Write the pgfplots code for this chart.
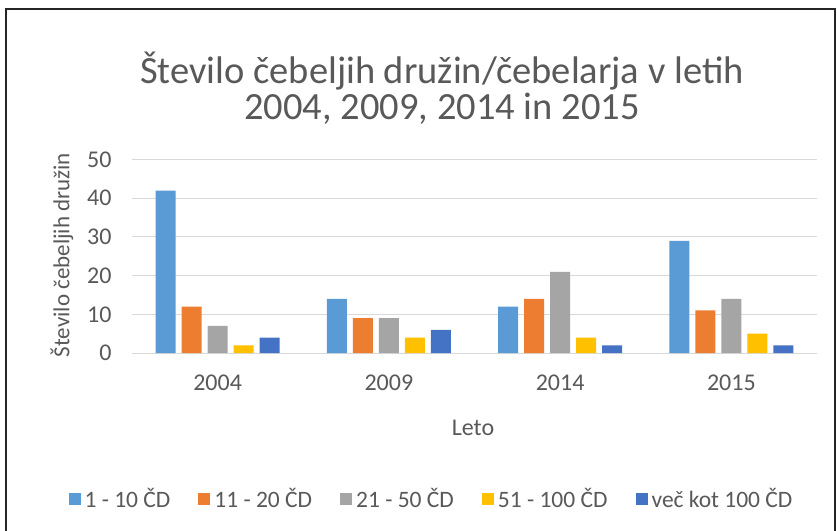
\documentclass[border=0pt]{standalone}
\usepackage{pgfplots}
\pgfplotsset{compat=1.18}
\usepackage{fontspec}
\setmainfont{Carlito}
\definecolor{cA}{HTML}{5B9BD5}
\definecolor{cB}{HTML}{ED7D31}
\definecolor{cC}{HTML}{A5A5A5}
\definecolor{cD}{HTML}{FFC000}
\definecolor{cE}{HTML}{4472C4}
\definecolor{txt}{HTML}{595959}
\definecolor{grd}{HTML}{D9D9D9}
\begin{document}
\begin{tikzpicture}[x=1pt,y=1pt]
\useasboundingbox (-132,-177) rectangle (705,353);
\fill[white] (-132,-177) rectangle (705,353);
\draw[black!85, line width=1.2pt] (-126,-190) -- (-126,344) -- (703,344) -- (703,-190);
\node[txt, font=\fontsize{38.5}{46}\selectfont, anchor=base] at (310,269) {Število čebeljih družin/čebelarja v letih};
\node[txt, font=\fontsize{38.5}{46}\selectfont, anchor=base] at (310,233) {2004, 2009, 2014 in 2015};
\node[txt, font=\fontsize{23}{28}\selectfont, rotate=90] at (-70,98) {Število čebeljih družin};
\node[txt, font=\fontsize{24}{29}\selectfont, anchor=base] at (341,-82) {Leto};
\begin{axis}[
  at={(0,0)}, anchor=south west,
  scale only axis, width=685pt, height=193.4pt,
  xmin=-0.5, xmax=3.5, ymin=0, ymax=50,
  ybar=6pt, bar width=20pt,
  xtick={0,1,2,3}, xticklabels={2004,2009,2014,2015},
  ytick={0,10,20,30,40,50},
  ymajorgrids, grid style={grd, line width=1pt},
  axis line style={draw=none},
  tick style={draw=none},
  /pgf/number format/assume math mode=true,
  ticklabel style={txt, font=\fontsize{24}{29}\selectfont},
  yticklabel style={xshift=-17pt},
  xticklabel style={yshift=-14pt},
  legend columns=5,
  legend style={at={(0.4372,-0.755)}, anchor=center, draw=none, fill=none,
    font=\fontsize{23.5}{28}\selectfont, text=txt,
    /tikz/every odd column/.append style={column sep=2pt},
    /tikz/every even column/.append style={column sep=26pt}},
  legend image code/.code={\fill[#1] (0pt,-6pt) rectangle (12pt,6pt);},
]
\addplot[fill=cA, draw=none] coordinates {(0,42) (1,14) (2,12) (3,29)};
\addplot[fill=cB, draw=none] coordinates {(0,12) (1,9) (2,14) (3,11)};
\addplot[fill=cC, draw=none] coordinates {(0,7) (1,9) (2,21) (3,14)};
\addplot[fill=cD, draw=none] coordinates {(0,2) (1,4) (2,4) (3,5)};
\addplot[fill=cE, draw=none] coordinates {(0,4) (1,6) (2,2) (3,2)};
\legend{1 - 10 ČD, 11 - 20 ČD, 21 - 50 ČD, 51 - 100 ČD, več kot 100 ČD}
\end{axis}
\end{tikzpicture}
\end{document}
